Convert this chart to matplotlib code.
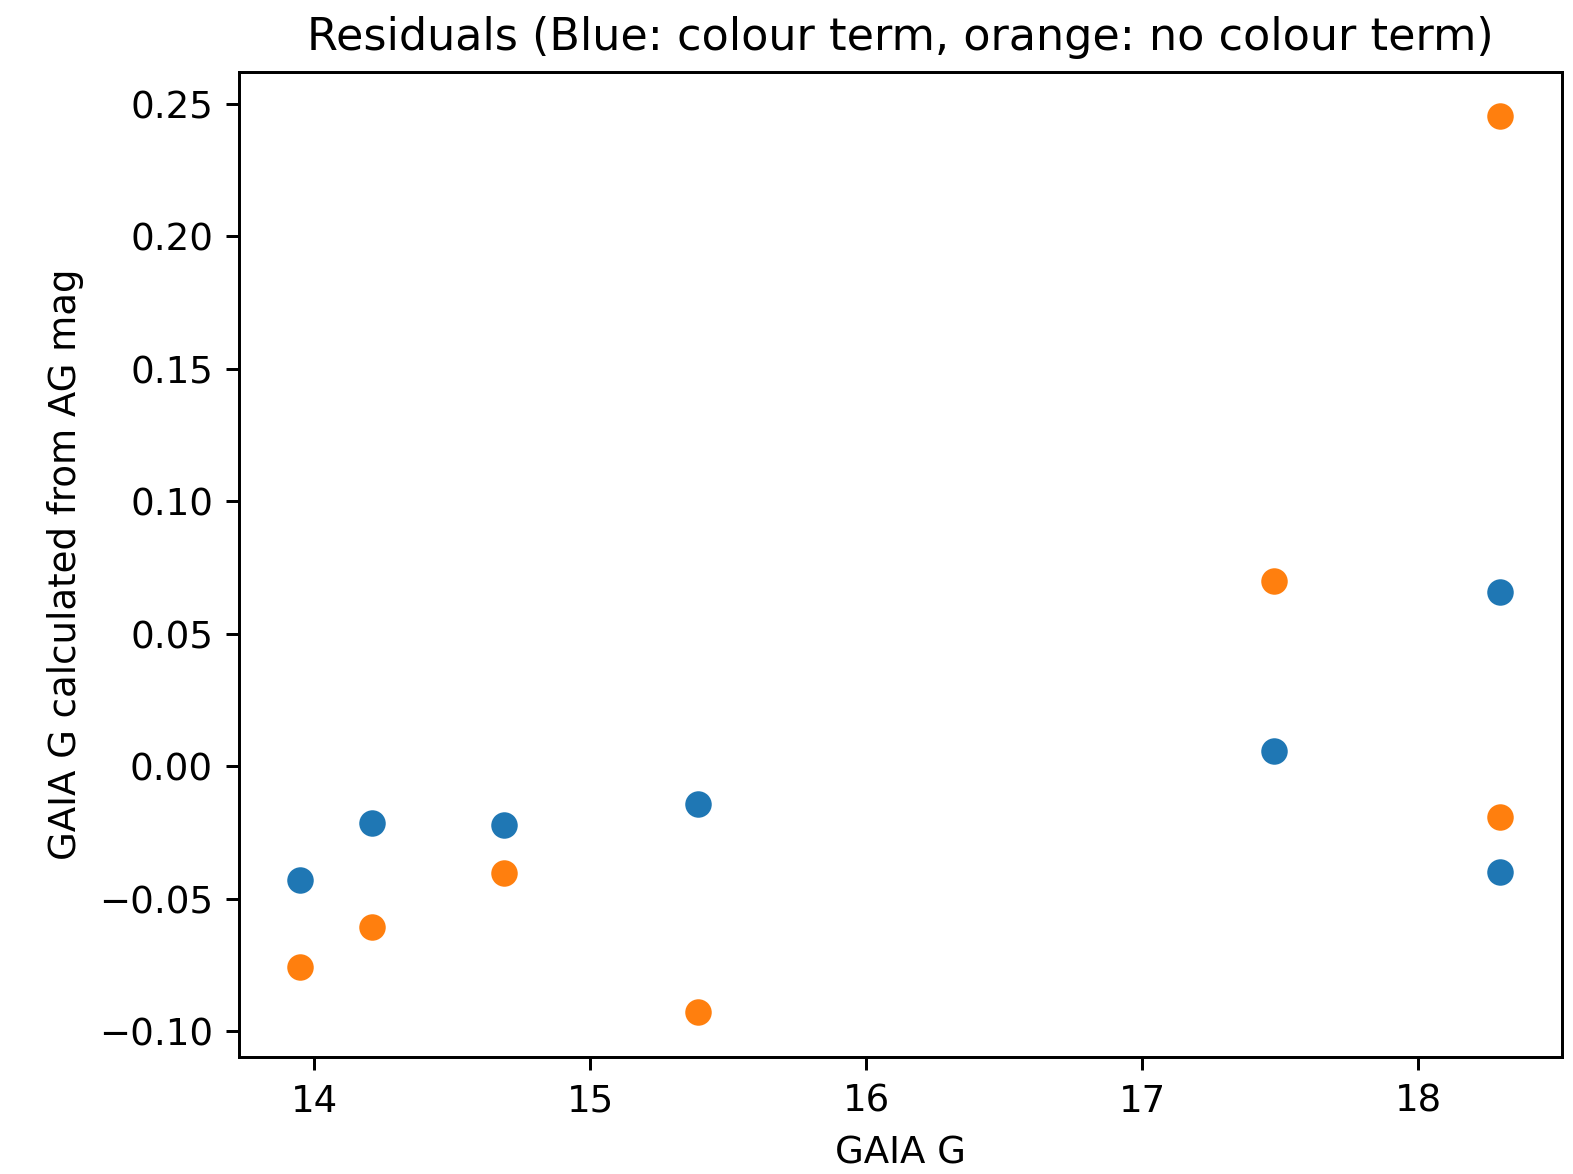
import matplotlib
matplotlib.use("Agg")
import matplotlib.pyplot as plt

gaia_g = [13.95, 14.21, 14.687, 15.391, 17.476, 18.297, 18.297]
resid_colour = [-0.0428, -0.0216, -0.0223, -0.0144, 0.0057, 0.0659, -0.0398]
resid_nocolour = [-0.0758, -0.0606, -0.0405, -0.0928, 0.0701, 0.2455, -0.0193]

DPI = 267
fig = plt.figure(figsize=(1573 / DPI, 1174 / DPI), dpi=DPI)
ax = fig.add_axes([239 / 1573, 1 - 1057 / 1174, (1562 - 239) / 1573, (1057 - 72) / 1174])

ax.scatter(gaia_g, resid_colour, s=60, color="#1f77b4", edgecolor="white", linewidth=0.6)
ax.scatter(gaia_g, resid_nocolour, s=60, color="#ff7f0e", edgecolor="white", linewidth=0.6)

ax.set_xlim(13.728, 18.52)
ax.set_ylim(-0.1098, 0.2621)
ax.set_xticks([14, 15, 16, 17, 18])
ax.set_yticks([-0.10, -0.05, 0.00, 0.05, 0.10, 0.15, 0.20, 0.25])
ax.set_yticklabels(["\u22120.10", "\u22120.05", "0.00", "0.05", "0.10", "0.15", "0.20", "0.25"])
ax.set_xlabel("GAIA G")
ax.set_ylabel("GAIA G calculated from AG mag")
ax.set_title("Residuals (Blue: colour term, orange: no colour term)")

fig.savefig("out.png", dpi=DPI)
